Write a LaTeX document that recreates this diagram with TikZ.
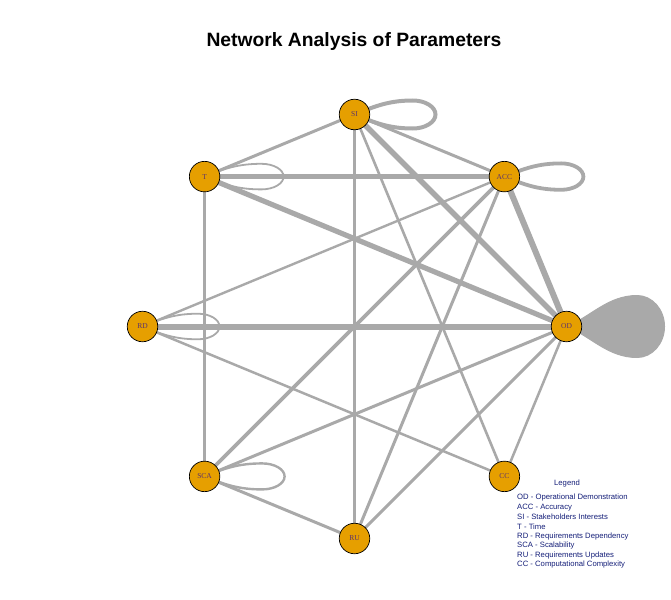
\documentclass[tikz,border=0pt]{standalone}
\usepackage{fontspec}
\setmainfont{Liberation Serif}
\newfontfamily\lsans{Liberation Sans}
\usetikzlibrary{calc,backgrounds}
\definecolor{nodeor}{HTML}{E69F00}
\definecolor{edgegray}{HTML}{A9A9A9}
\definecolor{labcol}{RGB}{90,50,110}
\definecolor{legcol}{RGB}{20,30,120}
\tikzset{
  vtx/.style={circle, draw=black, line width=0.7pt, fill=nodeor, minimum size=30.5pt, inner sep=0pt, font=\fontsize{7.5}{8}\selectfont, text=labcol},
  edge/.style={draw=edgegray, line width=#1},
  legtext/.style={font=\lsans\fontsize{7.7}{9}\selectfont, text=legcol, anchor=west, inner sep=0pt},
}
% #1 node, #2 length, #3 half height, #4 style
\newcommand\selfloop[4]{%
  \path[#4] (#1.center)
    .. controls ($(#1.center)+(0.25*#2,0.1*#2)$) and ($(#1.center)+(0.42*#2,#3)$) .. ($(#1.center)+(0.72*#2,#3)$)
    .. controls ($(#1.center)+(0.875*#2,#3)$) and ($(#1.center)+(#2,0.55*#3)$) .. ($(#1.center)+(#2,0)$)
    .. controls ($(#1.center)+(#2,-0.55*#3)$) and ($(#1.center)+(0.875*#2,-#3)$) .. ($(#1.center)+(0.72*#2,-#3)$)
    .. controls ($(#1.center)+(0.42*#2,-#3)$) and ($(#1.center)+(0.25*#2,-0.1*#2)$) .. (#1.center);}
\begin{document}
\begin{tikzpicture}[x=1pt,y=1pt]
\useasboundingbox (0,0) rectangle (671,-599);
\coordinate (ctr) at (354.5,-326.5);
\node[vtx] (OD) at ($(ctr)+(0:212)$) {OD};
\node[vtx] (ACC) at ($(ctr)+(45:212)$) {ACC};
\node[vtx] (SI) at ($(ctr)+(90:212)$) {SI};
\node[vtx] (T) at ($(ctr)+(135:212)$) {T};
\node[vtx] (RD) at ($(ctr)+(180:212)$) {RD};
\node[vtx] (SCA) at ($(ctr)+(225:212)$) {SCA};
\node[vtx] (RU) at ($(ctr)+(270:212)$) {RU};
\node[vtx] (CC) at ($(ctr)+(315:212)$) {CC};
\begin{scope}[on background layer]
  \draw[edge=3pt] (SI.center) -- (T.center);
  \draw[edge=3pt] (SI.center) -- (ACC.center);
  \draw[edge=5.5pt] (SI.center) -- (OD.center);
  \draw[edge=3.2pt] (SI.center) -- (RU.center);
  \draw[edge=2.6pt] (SI.center) -- (CC.center);
  \draw[edge=4.8pt] (T.center) -- (ACC.center);
  \draw[edge=5.2pt] (T.center) -- (OD.center);
  \draw[edge=2.8pt] (T.center) -- (SCA.center);
  \draw[edge=6pt] (ACC.center) -- (OD.center);
  \draw[edge=2.4pt] (ACC.center) -- (RD.center);
  \draw[edge=3.6pt] (ACC.center) -- (SCA.center);
  \draw[edge=3pt] (ACC.center) -- (RU.center);
  \draw[edge=6pt] (RD.center) -- (OD.center);
  \draw[edge=2.5pt] (RD.center) -- (CC.center);
  \draw[edge=3pt] (SCA.center) -- (OD.center);
  \draw[edge=3pt] (SCA.center) -- (RU.center);
  \draw[edge=3pt] (RU.center) -- (OD.center);
  \draw[edge=2.5pt] (CC.center) -- (OD.center);
  \selfloop{SI}{81}{14}{edge=4pt}
  \selfloop{T}{79}{12.8}{edge=1.8pt}
  \selfloop{ACC}{79}{13.2}{edge=3.8pt}
  \selfloop{RD}{77}{12.8}{edge=1.8pt}
  \selfloop{SCA}{80}{13}{edge=2.4pt}
  \selfloop{OD}{98}{31}{edge=1pt, fill=edgegray}
\end{scope}
\node[font=\lsans\bfseries\fontsize{19.3}{22}\selectfont] (title) at (354,-42) {Network Analysis of Parameters};
\node[font=\lsans\fontsize{7.7}{9}\selectfont, text=legcol, inner sep=0pt] (legtitle) at (567,-484) {Legend};
\node[legtext] (l1) at (517,-497.7) {OD - Operational Demonstration};
\node[legtext] (l2) at (517,-507.3) {ACC - Accuracy};
\node[legtext] (l3) at (517,-516.8) {SI - Stakeholders Interests};
\node[legtext] (l4) at (517,-526.5) {T - Time};
\node[legtext] (l5) at (517,-536.2) {RD - Requirements Dependency};
\node[legtext] (l6) at (517,-545.7) {SCA - Scalability};
\node[legtext] (l7) at (517,-555.3) {RU - Requirements Updates};
\node[legtext] (l8) at (517,-564.6) {CC - Computational Complexity};
\end{tikzpicture}
\end{document}
